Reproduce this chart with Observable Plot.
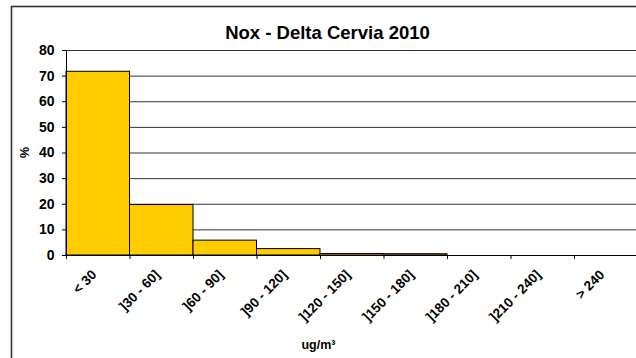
<!DOCTYPE html>
<html>
<head>
<meta charset="utf-8">
<script src="https://cdn.jsdelivr.net/npm/d3@7"></script>
<script src="https://cdn.jsdelivr.net/npm/@observablehq/plot@0.6"></script>
<style>
  html, body { margin: 0; padding: 0; background: #fff; }
  #chart svg { overflow: hidden; }
</style>
</head>
<body>
<div id="chart"></div>
<script>
const title = "Nox - Delta Cervia 2010";
const xLabel = "ug/m³";
const yLabel = "%";
const categories = ["< 30", "]30 - 60]", "]60 - 90]", "]90 - 120]", "]120 - 150]", "]150 - 180]", "]180 - 210]", "]210 - 240]", "> 240"];
const percent = [71.7, 19.7, 5.8, 2.5, 0.6, 0.5, 0, 0, 0];
const yTicks = [0, 10, 20, 30, 40, 50, 60, 70, 80];

const bins = categories.map((c, i) => ({label: c, i, value: percent[i]}));
const edges = d3.range(categories.length + 1);
const font = "'Liberation Sans', Arial, sans-serif";

const chart = Plot.plot({
  width: 636,
  height: 358,
  marginLeft: 66,
  marginRight: 0,
  marginTop: 50,
  marginBottom: 103,
  style: {fontFamily: font, background: "#fff", color: "#000", overflow: "hidden"},
  x: {domain: [0, categories.length], range: [66, 637.5], axis: null},
  y: {domain: [0, 80], range: [255, 50], axis: null},
  marks: [
    Plot.gridY(yTicks, {stroke: "#333", strokeOpacity: 1}),
    Plot.rectY(bins, {x1: d => d.i, x2: d => d.i + 1, y: "value", fill: "#FFCC00", stroke: "#000", strokeWidth: 1}),
    Plot.ruleX([0], {stroke: "#000"}),
    Plot.ruleY([0], {stroke: "#000"}),
    Plot.axisY(yTicks, {tickSize: 4, tickPadding: 8, fontSize: 14, fontWeight: "bold", stroke: "#000", label: null}),
    Plot.axisX(edges, {tickSize: 4, tickFormat: () => "", stroke: "#000", label: null}),
    Plot.text(bins, {x: d => d.i + 0.5, y: () => 0, text: "label", rotate: -45, textAnchor: "end", dx: -4, dy: 17, fontSize: 13.5, fontWeight: "bold", fill: "#000"}),
    Plot.text([title], {frameAnchor: "top-left", textAnchor: "middle", dx: 261, dy: -25, fontSize: 18.5, fontWeight: "bold", fill: "#000"}),
    Plot.text([xLabel], {frameAnchor: "bottom-left", textAnchor: "middle", dx: 252, dy: 93, fontSize: 12.5, fontWeight: "bold", fill: "#000"}),
    Plot.text([yLabel], {frameAnchor: "top-left", textAnchor: "middle", dx: -46, dy: 102, rotate: -90, fontSize: 12.5, fontWeight: "bold", fill: "#000"})
  ]
});

d3.select(chart).append("rect")
  .attr("x", 11.5).attr("y", 6.5)
  .attr("width", 700).attr("height", 400)
  .attr("fill", "none").attr("stroke", "#333").attr("stroke-width", 1.6);

document.getElementById("chart").appendChild(chart);
</script>
</body>
</html>
